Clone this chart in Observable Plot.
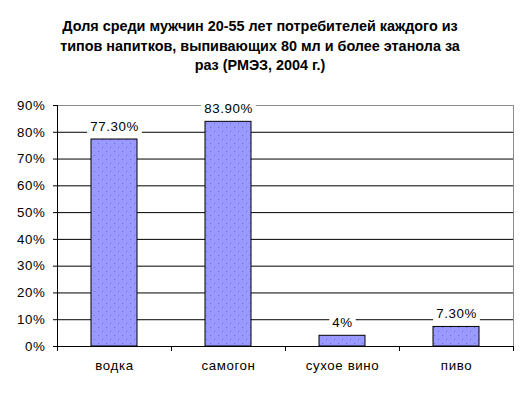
<!DOCTYPE html>
<html>
<head>
<meta charset="utf-8">
<script src="https://cdn.jsdelivr.net/npm/d3@7"></script>
<script src="https://cdn.jsdelivr.net/npm/@observablehq/plot@0.6"></script>
<style>
  body { margin: 0; background: #fff; font-family: "Liberation Sans", Arial, sans-serif; }
  #title { width: 520px; height: 85px; box-sizing: border-box; padding-top: 17px; text-align: center;
           font-weight: bold; font-size: 14.4px; line-height: 19.5px; color: #000; }
  #chart svg { display: block; }
</style>
</head>
<body>
<div id="title">Доля среди мужчин 20-55 лет потребителей каждого из<br>типов напитков, выпивающих 80 мл и более этанола за<br>раз (РМЭЗ, 2004 г.)</div>
<div id="chart"></div>
<script>
const categories = ["водка", "самогон", "сухое вино", "пиво"];
const values = [77.3, 83.9, 4, 7.3];
const valueLabels = ["77.30%", "83.90%", "4%", "7.30%"];
const yTicks = [0, 10, 20, 30, 40, 50, 60, 70, 80, 90];

const data = categories.map((c, i) => ({cat: c, value: values[i], label: valueLabels[i]}));
const font = "Liberation Sans, Arial, sans-serif";

// custom mark: left axis line and category boundary ticks, positioned by the x band scale
function boundaryTicks(index, scales, values, dims) {
  const x = scales.x, y = scales.y;
  const g = d3.create("svg:g").attr("stroke", "black").attr("stroke-width", 1);
  const half = (x.step() - x.bandwidth()) / 2;
  const bounds = categories.map(c => x(c) - half);
  bounds.push(x(categories[categories.length - 1]) + x.bandwidth() + half);
  const y0 = y(0);
  for (const b of bounds) {
    g.append("line").attr("x1", Math.round(b) + 0.5).attr("x2", Math.round(b) + 0.5)
      .attr("y1", y0).attr("y2", y0 + 5);
  }
  g.append("line").attr("x1", dims.marginLeft + 0.5).attr("x2", dims.marginLeft + 0.5)
    .attr("y1", y(yTicks[yTicks.length - 1])).attr("y2", y0);
  return g.node();
}

const plot = Plot.plot({
  width: 528,
  height: 308,
  marginTop: 20,
  marginBottom: 47,
  marginLeft: 57,
  marginRight: 15,
  style: {fontFamily: font, fontSize: "13.3px", color: "black", letterSpacing: "0.6px", background: "white"},
  x: {domain: categories, paddingInner: 0.6, paddingOuter: 0.3, label: null},
  y: {domain: [0, 90], label: null},
  marks: [
    Plot.ruleY(yTicks.filter(t => t > 0 && t < 90), {stroke: "black", strokeWidth: 1}),
    Plot.frame({stroke: "#8c8c8c"}),
    Plot.barY(data, {x: "cat", y: "value", fill: "#9999ff", stroke: "black", strokeWidth: 1}),
    Plot.ruleY([0], {stroke: "black"}),
    boundaryTicks,
    Plot.axisY({ticks: yTicks, tickFormat: d => d + "%", tickSize: 4, tickPadding: 8, label: null}),
    Plot.axisX({tickSize: 0, tickPadding: 14, label: null}),
    Plot.text(data, {x: "cat", y: "value", text: "label", dy: -13, fill: "black"})
  ]
});
document.getElementById("chart").append(plot);

// dotted pattern fill for bars
const svg = d3.select(plot);
const defs = svg.insert("defs", ":first-child");
const pat = defs.append("pattern").attr("id", "dots").attr("patternUnits", "userSpaceOnUse")
  .attr("width", 8).attr("height", 8);
pat.append("rect").attr("width", 8).attr("height", 8).attr("fill", "#9999ff");
pat.append("rect").attr("x", 2).attr("y", 2).attr("width", 1).attr("height", 1).attr("fill", "#6a6ad8");
pat.append("rect").attr("x", 6).attr("y", 6).attr("width", 1).attr("height", 1).attr("fill", "#6a6ad8");
svg.selectAll("g[aria-label='bar'] rect").attr("fill", "url(#dots)");

// white boxes behind the value labels (as in the original)
svg.selectAll("g[aria-label='text'] text").each(function() {
  const bb = this.getBBox();
  const r = document.createElementNS("http://www.w3.org/2000/svg", "rect");
  const t = this.getAttribute("transform");
  if (t) r.setAttribute("transform", t);
  r.setAttribute("x", bb.x - 3);
  r.setAttribute("y", bb.y);
  r.setAttribute("width", bb.width + 6);
  r.setAttribute("height", bb.height);
  r.setAttribute("fill", "white");
  this.parentNode.insertBefore(r, this);
});
</script>
</body>
</html>
